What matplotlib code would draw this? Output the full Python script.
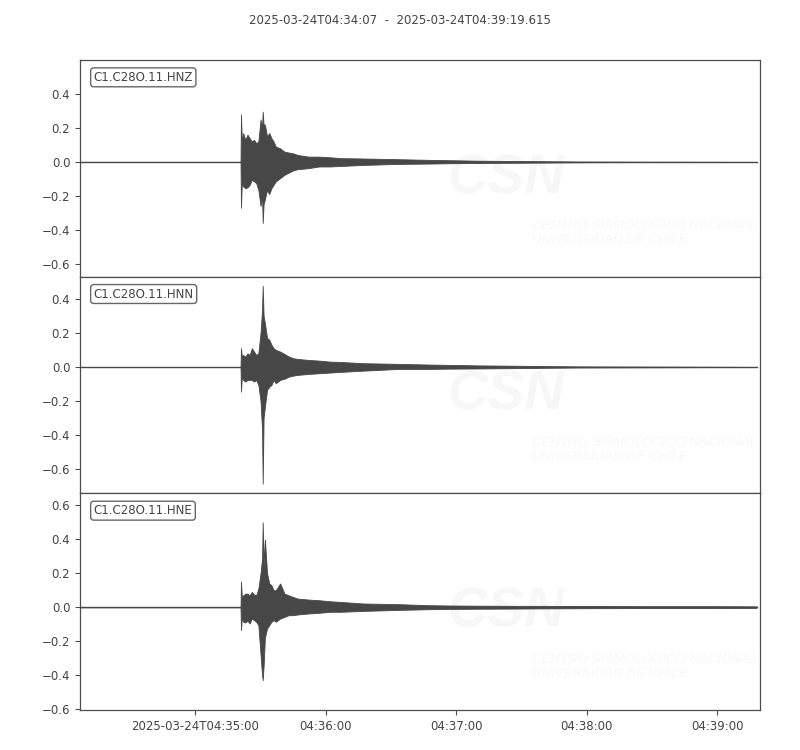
import matplotlib.pyplot as plt

# ============================
# DATOS (envolvente)
# ============================
# segundos desde 2025-03-24T04:34:07
TIME = [0, 73.8, 74.0, 74.4, 75, 76, 77, 78, 79, 80, 81, 82, 83, 83.7, 84.0, 84.4,
        85, 86, 87, 88, 89, 90, 92, 94, 96, 98, 100, 105, 110, 115, 120, 130,
        146, 160, 170, 183, 200, 213, 230, 260, 290, 311]

HNZ_UP = [0, 0, 0.28, 0.12, 0.17, 0.13, 0.16, 0.14, 0.12, 0.13, 0.11, 0.12, 0.25, 0.20, 0.296, 0.22,
          0.22, 0.15, 0.17, 0.14, 0.12, 0.09, 0.08, 0.06, 0.055, 0.05, 0.041, 0.031, 0.031, 0.027, 0.022, 0.02,
          0.016, 0.012, 0.01, 0.007, 0.005, 0.004, 0.002, 0.001, 0.0005, 0]
HNZ_LO = [0, 0, -0.27, -0.12, -0.145, -0.155, -0.15, -0.135, -0.105, -0.115, -0.125, -0.165, -0.26, -0.20, -0.36, -0.25,
          -0.22, -0.165, -0.19, -0.155, -0.135, -0.115, -0.096, -0.076, -0.063, -0.05, -0.043, -0.037, -0.027, -0.027, -0.024, -0.018,
          -0.012, -0.01, -0.008, -0.006, -0.005, -0.004, -0.002, -0.001, -0.0005, 0]

HNN_UP = [0, 0, 0.11, 0.06, 0.07, 0.06, 0.08, 0.07, 0.11, 0.09, 0.07, 0.08, 0.20, 0.335, 0.476, 0.30,
          0.257, 0.17, 0.16, 0.13, 0.11, 0.10, 0.09, 0.076, 0.061, 0.051, 0.047, 0.041, 0.037, 0.031, 0.029, 0.022,
          0.018, 0.014, 0.012, 0.009, 0.007, 0.005, 0.003, 0.002, 0.001, 0]
HNN_LO = [0, 0, -0.145, -0.06, -0.076, -0.086, -0.076, -0.076, -0.076, -0.086, -0.076, -0.106, -0.20, -0.37, -0.684, -0.30,
          -0.233, -0.135, -0.116, -0.106, -0.076, -0.096, -0.076, -0.069, -0.057, -0.051, -0.047, -0.041, -0.037, -0.033, -0.029, -0.022,
          -0.012, -0.012, -0.01, -0.009, -0.007, -0.005, -0.003, -0.002, -0.001, 0]

HNE_UP = [0, 0, 0.15, 0.06, 0.07, 0.08, 0.08, 0.07, 0.09, 0.075, 0.07, 0.11, 0.20, 0.286, 0.50, 0.25,
          0.40, 0.20, 0.14, 0.13, 0.10, 0.10, 0.14, 0.08, 0.07, 0.06, 0.051, 0.045, 0.041, 0.035, 0.031, 0.022,
          0.018, 0.012, 0.01, 0.009, 0.008, 0.008, 0.007, 0.006, 0.006, 0.005]
HNE_LO = [0, 0, -0.135, -0.06, -0.086, -0.09, -0.08, -0.096, -0.067, -0.076, -0.086, -0.106, -0.28, -0.40, -0.43, -0.35,
          -0.18, -0.125, -0.106, -0.086, -0.076, -0.086, -0.067, -0.057, -0.047, -0.047, -0.043, -0.037, -0.033, -0.027, -0.027, -0.022,
          -0.016, -0.012, -0.01, -0.009, -0.008, -0.007, -0.006, -0.005, -0.005, -0.004]

CHANNELS = ["C1.C28O.11.HNZ", "C1.C28O.11.HNN", "C1.C28O.11.HNE"]
YLIMS = [(-0.676, 0.60), (-0.741, 0.529), (-0.606, 0.671)]
YTICKS = [[-0.6, -0.4, -0.2, 0.0, 0.2, 0.4],
          [-0.6, -0.4, -0.2, 0.0, 0.2, 0.4],
          [-0.6, -0.4, -0.2, 0.0, 0.2, 0.4, 0.6]]

XTICKS = [53, 113, 173, 233, 293]
XLABELS = ["2025-03-24T04:35:00", "04:36:00", "04:37:00", "04:38:00", "04:39:00"]
T_END = 312.615

TITLE = "2025-03-24T04:34:07  -  2025-03-24T04:39:19.615"

# ============================
# FIGURA
# ============================
TRACE = "#474747"
GREY = "#4d4d4d"
WATER = "#f7f7f7"

fig = plt.figure(figsize=(8, 7.5), dpi=100)
fig.text(0.5, 0.973, TITLE, ha="center", va="center", fontsize=8.5, color="#444444")

ups = [HNZ_UP, HNN_UP, HNE_UP]
los = [HNZ_LO, HNN_LO, HNE_LO]
bottoms = [0.6311, 0.3422, 0.0533]

for i in range(3):
    ax = fig.add_axes([0.1, bottoms[i], 0.85, 0.2889])

    # marca de agua CSN (muy tenue)
    ax.text(0.627, 0.45, "CSN", transform=ax.transAxes, ha="center", va="center",
            fontsize=40, fontweight="bold", fontstyle="italic", family="Liberation Sans",
            color=WATER, zorder=0)
    ax.text(0.664, 0.2, "CENTRO SISMOLÓGICO NACIONAL\nUNIVERSIDAD DE CHILE",
            transform=ax.transAxes, ha="left", va="center", fontsize=9.5,
            fontstyle="italic", family="Liberation Sans", color=WATER,
            linespacing=1.2, zorder=0, clip_on=True)

    ax.plot([0, T_END - 1.5], [0, 0], color=TRACE, lw=1.0, zorder=2)
    ax.fill_between(TIME, los[i], ups[i], color=TRACE, lw=0.6, edgecolor=TRACE, zorder=3)

    ax.set_xlim(0, T_END)
    ax.set_ylim(*YLIMS[i])
    ax.set_yticks(YTICKS[i])
    ax.set_yticklabels(["%.1f" % v if v >= 0 else "\u2212%.1f" % -v for v in YTICKS[i]])

    for sp in ax.spines.values():
        sp.set_color(GREY)
        sp.set_linewidth(0.9)
    ax.tick_params(axis="both", labelsize=8.5, colors=GREY, labelcolor="#444444",
                   length=3.5, width=0.8)

    if i < 2:
        ax.set_xticks([])
    else:
        ax.set_xticks(XTICKS)
        ax.set_xticklabels(XLABELS)

    ax.text(0.02, 0.92, CHANNELS[i], transform=ax.transAxes, ha="left", va="center",
            fontsize=8.5, color="#444444",
            bbox=dict(boxstyle="round,pad=0.25", facecolor="white", edgecolor="#666666", lw=1.0))

plt.savefig("out.png", dpi=100)
